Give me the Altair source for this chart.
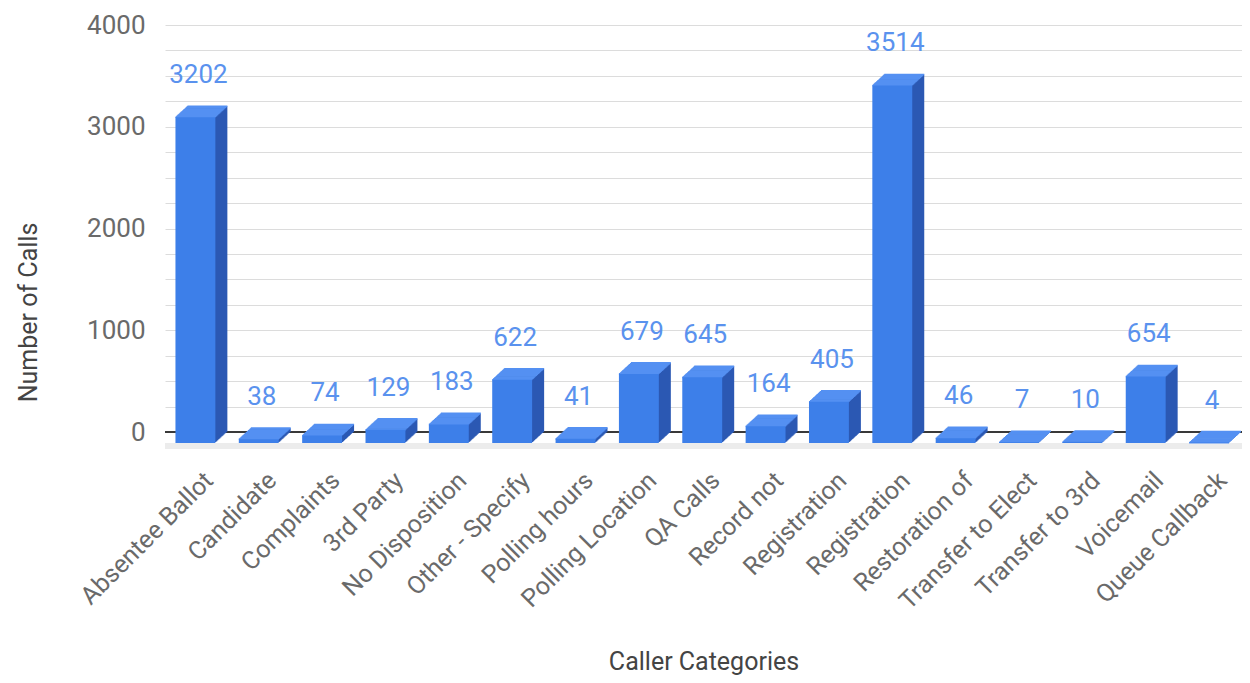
import json
import altair as alt
import pandas as pd

categories = ["Absentee Ballot", "Candidate", "Complaints", "3rd Party", "No Disposition",
              "Other - Specify", "Polling hours", "Polling Location", "QA Calls", "Record not",
              "Registration", "Registration", "Restoration of", "Transfer to Elect",
              "Transfer to 3rd", "Voicemail", "Queue Callback"]
calls = [3202, 38, 74, 129, 183, 622, 41, 679, 645, 164, 405, 3514, 46, 7, 10, 654, 4]
y_ticks = list(range(0, 4001, 250))

df = pd.DataFrame({"idx": list(range(len(categories))), "category": categories, "calls": calls})

HALF = 0.315
DX = 12.0
DY = 11.0
N = 12
FRONT = "#3d7fe9"
SIDE = "#2b58b3"
TOP = "#5490f2"
FONT = "Roboto"

xscale = alt.Scale(domain=[-0.48, 16.52], nice=False, zero=False)
yscale = alt.Scale(domain=[0, 4000], nice=False, zero=True)

base = alt.Chart(df).transform_calculate(
    x0=f"datum.idx - {HALF}", x1=f"datum.idx + {HALF}"
)

label_expr = json.dumps(categories) + "[datum.value]"

x_axis = alt.Axis(values=list(range(len(categories))), labelExpr=label_expr, grid=False,
                  ticks=False, domain=False, labelAngle=315, labelAlign="right",
                  labelBaseline="middle", labelFontSize=25, labelColor="#6a6a6a",
                  labelFont=FONT, labelPadding=44, labelOffset=13, labelOverlap=False,
                  labelFlush=False, labelBound=False, labelLimit=400,
                  title="Caller Categories", titleFont=FONT, titleFontSize=25,
                  titleFontWeight="normal", titleColor="#444444", titleY=229,
                  titleBaseline="middle")
y_axis = alt.Axis(values=y_ticks, labelExpr="datum.value % 1000 == 0 ? datum.label : ''",
                  format="d", grid=True, gridColor="#dcdcdc", gridWidth=1, ticks=False,
                  domain=False, labelPadding=20, labelFontSize=26, labelColor="#6a6a6a",
                  labelFont=FONT, title="Number of Calls", titleFont=FONT, titleFontSize=25,
                  titleFontWeight="normal", titleColor="#444444", titleX=-137, titleY=287,
                  titleAngle=270, titleAlign="center", titleBaseline="middle")


def X(field):
    return alt.X(field, scale=xscale, axis=x_axis)


def Y(field):
    return alt.Y(field, scale=yscale, axis=y_axis)


layers = []

# floor
layers.append(alt.Chart(df).mark_rule(color="#ececec", strokeWidth=6, yOffset=14).encode(
    y=alt.datum(0, scale=yscale, axis=y_axis)))
# zero line
layers.append(alt.Chart(df).mark_rule(color="#3a3a3a", strokeWidth=1.5).encode(
    y=alt.datum(0, scale=yscale, axis=y_axis)))

# side / back extrusion
for k in range(1, N + 1):
    ox = k * DX / N
    oy = DY - k * DY / N
    layers.append(base.mark_bar(color=SIDE, xOffset=ox, x2Offset=ox, yOffset=oy, y2Offset=oy).encode(
        x=X("x0:Q"), x2="x1:Q", y=Y("calls:Q"), y2=alt.datum(0)))

# top face
for k in range(0, N + 1):
    ox = k * DX / N
    oy = DY - k * DY / N
    layers.append(base.mark_rule(color=TOP, strokeWidth=1.6, xOffset=ox, x2Offset=ox, yOffset=oy).encode(
        x=X("x0:Q"), x2="x1:Q", y=Y("calls:Q")))

# front face
layers.append(base.mark_bar(color=FRONT, yOffset=DY, y2Offset=DY).encode(
    x=X("x0:Q"), x2="x1:Q", y=Y("calls:Q"), y2=alt.datum(0)))

# value labels
layers.append(base.mark_text(color="#5a92ee", fontSize=26, font=FONT, baseline="middle",
                             align="center", dy=-31, dx=3).encode(
    x=X("idx:Q"), y=Y("calls:Q"), text="calls:Q"))

chart = alt.layer(*layers).properties(
    width=1077, height=407,
    autosize=alt.AutoSizeParams(type="none"),
    padding={"left": 157, "top": 17, "right": 0, "bottom": 243},
).configure_view(stroke=None)

chart.save("out.html", embed_options={"renderer": "svg", "actions": False})
